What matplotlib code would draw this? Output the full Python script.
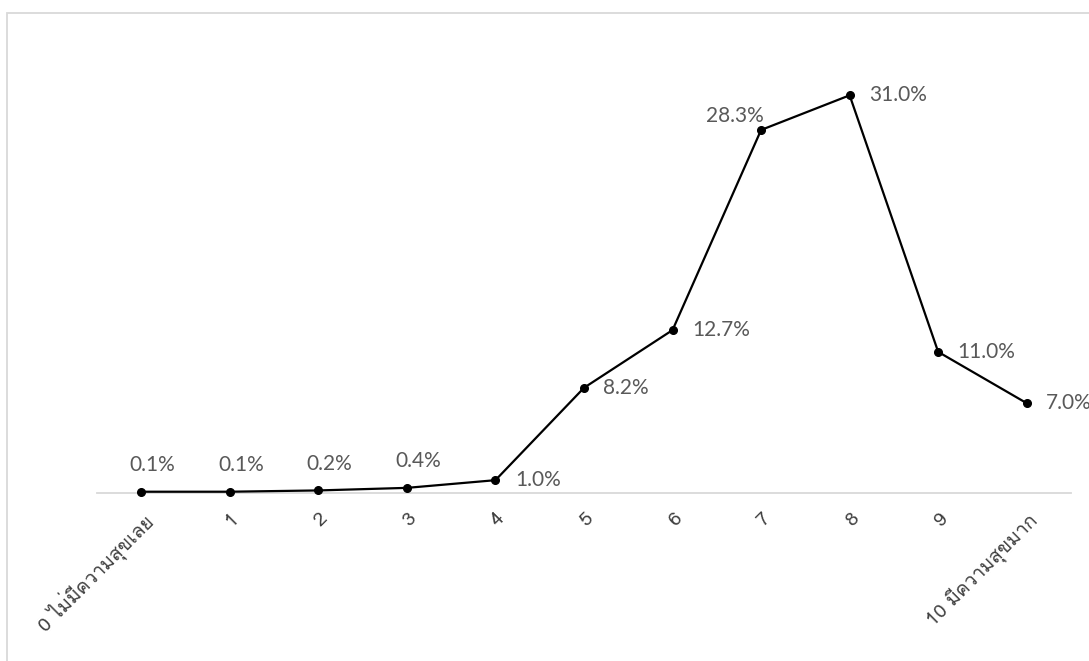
import matplotlib
matplotlib.use("Agg")
import matplotlib.pyplot as plt
from matplotlib import font_manager
from matplotlib.ft2font import FT2Font
from matplotlib.patches import Rectangle

categories = ["0 ไม่มีความสุขเลย", "1", "2", "3", "4", "5", "6", "7", "8", "9", "10 มีความสุขมาก"]
values = [0.1, 0.1, 0.2, 0.4, 1.0, 8.2, 12.7, 28.3, 31.0, 11.0, 7.0]
labels = ["0.1%", "0.1%", "0.2%", "0.4%", "1.0%", "8.2%", "12.7%", "28.3%", "31.0%", "11.0%", "7.0%"]

# find an installed font that covers Thai
thai_font = None
for f in font_manager.fontManager.ttflist:
    try:
        cm = FT2Font(f.fname).get_charmap()
        if 0x0E01 in cm and 0x0E21 in cm:
            thai_font = f.name
            break
    except Exception:
        pass
tick_family = ([thai_font] if thai_font else []) + ["DejaVu Sans"]

fig = plt.figure(figsize=(10.89, 6.61), dpi=100)
W, H = 1089, 661

# outer chart border
fig.patches.append(Rectangle((7 / W, -0.05), 1.1, (H - 13) / H + 0.05,
                             transform=fig.transFigure, fill=False,
                             edgecolor="#D9D9D9", linewidth=1.3))

ax = fig.add_axes([97 / W, (H - 493) / H, (1071 - 97) / W, (493 - 44) / H])
x = list(range(len(values)))
ax.plot(x, values, color="black", linewidth=1.6, marker="o", markersize=5.5,
        markerfacecolor="black", markeredgecolor="black", zorder=3, clip_on=False)
ax.set_xlim(-0.5, 10.5)
ax.set_ylim(0, 35)
for s in ["top", "right", "left"]:
    ax.spines[s].set_visible(False)
ax.spines["bottom"].set_color("#D9D9D9")
ax.spines["bottom"].set_linewidth(1.3)
ax.set_yticks([])
ax.set_xticks(x)
ax.set_xticklabels(categories, rotation=45, ha="right", rotation_mode="anchor",
                   family=tick_family, fontsize=14, color="#404040")
ax.tick_params(axis="x", length=0, pad=12)

lab_col = "#595959"
kw = dict(textcoords="offset points", fontsize=15, color=lab_col, family="Lato",
          fontweight="normal", annotation_clip=False)
for i, (v, t) in enumerate(zip(values, labels)):
    if i <= 3:
        ax.annotate(t, (i, v), xytext=(8, 19), ha="center", va="center", **kw)
    elif i == 7:
        ax.annotate(t, (i, v), xytext=(2, 10), ha="right", va="center", **kw)
    else:
        ax.annotate(t, (i, v), xytext=(14, 0), ha="left", va="center", **kw)

fig.savefig("out.png", dpi=100)
